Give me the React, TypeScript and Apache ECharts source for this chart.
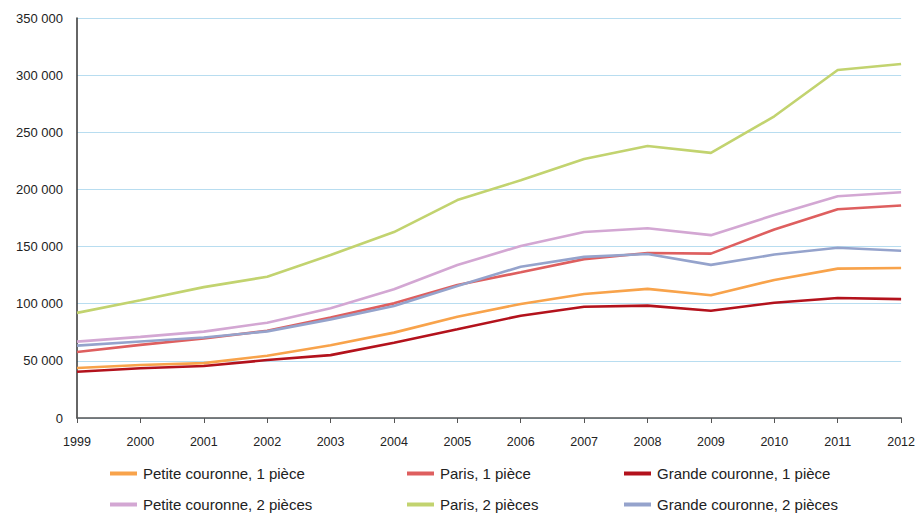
import React, { useEffect, useRef } from "react";
import * as echarts from "echarts";

// Years on the horizontal axis
const years = ["1999", "2000", "2001", "2002", "2003", "2004", "2005", "2006", "2007", "2008", "2009", "2010", "2011", "2012"];

// Series values (euros)
const petiteCouronne1 = [43700, 46400, 48000, 54500, 63600, 74700, 88600, 99800, 108500, 113000, 107400, 120800, 130700, 131300];
const paris1 = [57700, 64000, 69500, 76400, 88000, 100300, 116400, 127500, 139000, 144400, 143800, 165000, 182600, 186000];
const grandeCouronne1 = [40500, 43500, 45500, 50700, 55000, 65900, 77600, 89500, 97400, 98300, 93900, 100900, 105000, 104000];
const petiteCouronne2 = [66800, 71000, 75600, 83400, 96000, 112600, 133900, 150500, 162800, 166000, 160000, 177600, 194000, 197500];
const paris2 = [92000, 103000, 114500, 123600, 142600, 162700, 190700, 208000, 226600, 238000, 232000, 264000, 304500, 309700];
const grandeCouronne2 = [63300, 67000, 70500, 75800, 86300, 98000, 115500, 132400, 141000, 143500, 134000, 143000, 149000, 146400];

const seriesNames = [
  "Petite couronne, 1 pièce",
  "Paris, 1 pièce",
  "Grande couronne, 1 pièce",
  "Petite couronne, 2 pièces",
  "Paris, 2 pièces",
  "Grande couronne, 2 pièces",
];
const seriesValues = [petiteCouronne1, paris1, grandeCouronne1, petiteCouronne2, paris2, grandeCouronne2];
const seriesColors = ["#F8A34B", "#DE5F5F", "#B3121C", "#D3A7D3", "#C2D36F", "#95A3CC"];

// Legend grid: 3 columns x 2 rows
const legendColumnsX = [110, 407, 624];
const legendRowsCenterY = [475, 506];

const FONT = "'Liberation Sans', Arial, Helvetica, sans-serif";

export default function App() {
  const ref = useRef<HTMLDivElement>(null);

  useEffect(() => {
    if (!ref.current) return;
    const chart = echarts.init(ref.current, null, { renderer: "svg" });

    const legends = seriesNames.map((name, i) => {
      const col = i % 3;
      const row = Math.floor(i / 3);
      return {
        data: [name],
        left: legendColumnsX[col],
        top: legendRowsCenterY[row] - 9,
        padding: 0,
        icon: "rect",
        itemWidth: 27,
        itemHeight: 4,
        textStyle: { fontFamily: FONT, fontSize: 15, color: "#222", padding: [0, 0, 0, 1] },
        selectedMode: false,
      };
    });

    chart.setOption({
      animation: false,
      backgroundColor: "#ffffff",
      textStyle: { fontFamily: FONT },
      grid: { left: 77, right: 11, top: 18, bottom: 95, containLabel: false },
      legend: legends,
      xAxis: {
        type: "category",
        data: years,
        boundaryGap: false,
        axisLine: { lineStyle: { color: "#555", width: 1.5 } },
        axisTick: { show: true, length: 5, lineStyle: { color: "#555" } },
        axisLabel: { color: "#222", fontSize: 12.5, margin: 17, fontFamily: FONT },
        splitLine: { show: false },
      },
      yAxis: {
        type: "value",
        min: 0,
        max: 350000,
        interval: 50000,
        axisLine: { show: true, lineStyle: { color: "#333", width: 1.5 } },
        axisTick: { show: false },
        axisLabel: {
          color: "#222",
          fontSize: 13,
          margin: 14,
          fontFamily: FONT,
          formatter: (v: number) => (v === 0 ? "0" : `${Math.round(v / 1000)} 000`),
        },
        splitLine: { show: true, lineStyle: { color: "#B8DDF0", width: 1.2 } },
      },
      series: seriesNames.map((name, i) => ({
        name,
        type: "line",
        data: seriesValues[i],
        showSymbol: false,
        symbol: "none",
        lineStyle: { color: seriesColors[i], width: 2.6 },
        itemStyle: { color: seriesColors[i] },
        z: 2 + i,
      })),
    });

    return () => chart.dispose();
  }, []);

  return (
    <div
      ref={ref}
      style={{ position: "fixed", left: 0, top: 0, width: 918, height: 513, background: "#fff" }}
    />
  );
}
